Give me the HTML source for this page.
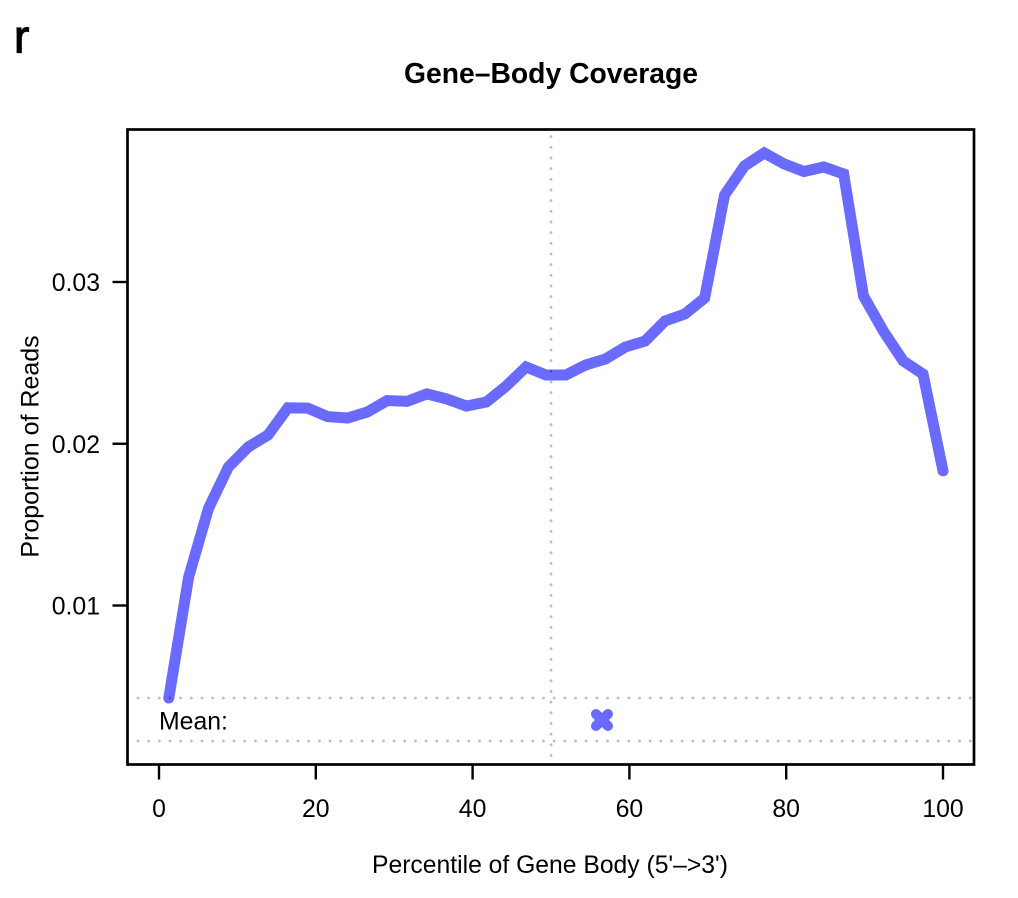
<!DOCTYPE html>
<html>
<head>
<meta charset="utf-8">
<title>Gene-Body Coverage</title>
<style>
html,body{margin:0;padding:0;background:#fff;}
svg{display:block;font-family:"Liberation Sans",Arial,sans-serif;fill:#000;}
#guides{mix-blend-mode:multiply;}
</style>
</head>
<body>
<svg id="chart" xmlns="http://www.w3.org/2000/svg" width="1018" height="898" viewBox="0 0 1018 898">
<rect x="0" y="0" width="1018" height="898" fill="#fff"/>
<text x="14" y="52.5" font-size="46" stroke="#000" stroke-width="1.2">r</text>
<text x="551" y="83" font-size="28.3" font-weight="bold" text-anchor="middle">Gene–Body Coverage</text>
<text x="550" y="873" font-size="24.7" text-anchor="middle">Percentile of Gene Body (5'–&gt;3')</text>
<text transform="translate(38.5,446.5) rotate(-90)" font-size="25" text-anchor="middle">Proportion of Reads</text>
<g id="series"></g>
<g id="guides"></g>
<rect x="127.5" y="129.5" width="846.5" height="635" fill="none" stroke="#000" stroke-width="2.7"/>
<g id="axes"></g>
<text x="159" y="729.5" font-size="24.8">Mean:</text>
</svg>
<script>
var percentiles = [1.25,3.78,6.31,8.85,11.38,13.91,16.44,18.97,21.5,24.04,26.57,29.1,31.63,34.16,36.69,39.23,41.76,44.29,46.82,49.35,51.88,54.42,56.95,59.48,62.01,64.54,67.07,69.6,72.14,74.67,77.2,79.73,82.26,84.79,87.33,89.86,92.39,94.92,97.45,100];
var coverage = [0.00428,0.01176,0.016,0.01856,0.0198,0.02054,0.02222,0.0222,0.02168,0.02159,0.02196,0.02267,0.02262,0.02308,0.02277,0.02233,0.02258,0.02357,0.02475,0.02425,0.02425,0.02487,0.02524,0.02598,0.02635,0.02759,0.02802,0.02901,0.03538,0.03717,0.03798,0.0373,0.03683,0.03711,0.03668,0.02913,0.02697,0.02512,0.02431,0.01832];
var xTickValues = [0,20,40,60,80,100];
var xTickLabels = ["0","20","40","60","80","100"];
var yTickValues = [0.01,0.02,0.03];
var yTickLabels = ["0.01","0.02","0.03"];
var meanPosition = [56.5];
var meanValue = [0.00292];
var bandValues = [0.00428,0.00162];
var midpoint = [50];

var NS = "http://www.w3.org/2000/svg";
function xScale(v){return 159 + v * 7.84;}
function yScale(v){return 282 + (0.03 - v) * 16175;}
function make(tag, parent, props){
  var el = document.createElementNS(NS, tag);
  for (var k in props) el.setAttribute(k, props[k]);
  parent.appendChild(el);
  return el;
}
var guides = document.getElementById("guides");
var series = document.getElementById("series");
var axes = document.getElementById("axes");
var dotted = {stroke:"#bdbdbd","stroke-width":2.8,"stroke-linecap":"round","stroke-dasharray":"0 10.67",fill:"none"};
function dottedLine(x1,y1,x2,y2){
  var el = make("line", guides, {x1:x1,y1:y1,x2:x2,y2:y2});
  for (var k in dotted) el.setAttribute(k, dotted[k]);
  return el;
}
midpoint.forEach(function(m){
  var el = dottedLine(xScale(m),136.6,xScale(m),756);
  
  
});
bandValues.forEach(function(b){
  var el = dottedLine(138,yScale(b),972,yScale(b));
  
  
});
var pts = percentiles.map(function(p,i){return xScale(p).toFixed(2)+","+yScale(coverage[i]).toFixed(2);}).join(" ");
var line = make("polyline", series, {points:pts,fill:"none",stroke:"#6a6aff","stroke-width":11,"stroke-linecap":"round","stroke-linejoin":"miter"});


meanPosition.forEach(function(m,i){
  var cx = xScale(m), cy = yScale(meanValue[i]), r = 6;
  var marker = make("path", series, {d:"M"+(cx-r)+" "+(cy-r)+"L"+(cx+r)+" "+(cy+r)+"M"+(cx-r)+" "+(cy+r)+"L"+(cx+r)+" "+(cy-r),fill:"none",stroke:"#6a6aff","stroke-width":10,"stroke-linecap":"round"});
  
  
});
xTickValues.forEach(function(v,i){
  var x = xScale(v);
  var tick = make("line", axes, {x1:x,y1:764,x2:x,y2:779.5,stroke:"#000","stroke-width":2.4});
  
  
  var label = make("text", axes, {x:x,y:817,"font-size":24.8,"text-anchor":"middle"});
  label.textContent = xTickLabels[i];
  
  
});
yTickValues.forEach(function(v,i){
  var y = yScale(v);
  var tick = make("line", axes, {x1:112.5,y1:y,x2:128,y2:y,stroke:"#000","stroke-width":2.4});
  
  
  var label = make("text", axes, {x:100,y:y+9,"font-size":24.8,"text-anchor":"end"});
  label.textContent = yTickLabels[i];
  
  
});
</script>
</body>
</html>
